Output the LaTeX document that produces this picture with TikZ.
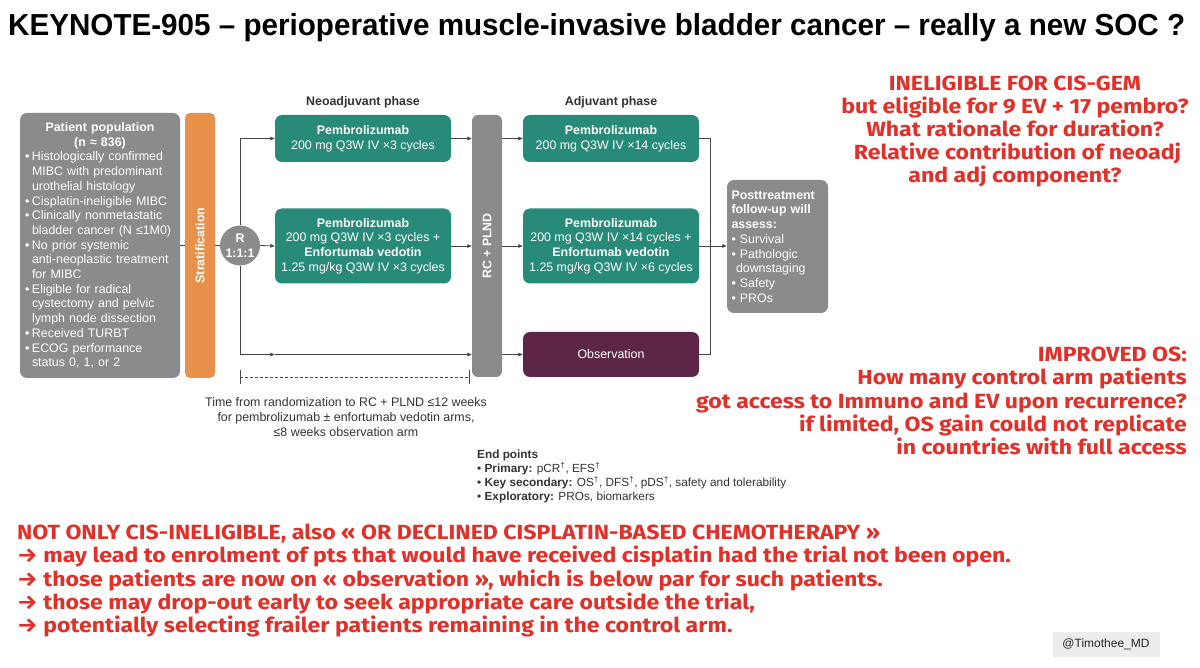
\documentclass[tikz,border=0pt]{standalone}
\usepackage{fontspec}
\usepackage{graphicx}
\setmainfont{Liberation Sans}
\newfontfamily\alertfont{Fira Sans}[FakeStretch=1.125]
\usetikzlibrary{arrows.meta}
\definecolor{boxgray}{RGB}{138,139,141}
\definecolor{stratorange}{RGB}{232,145,75}
\definecolor{armgreen}{RGB}{40,138,121}
\definecolor{obsmaroon}{RGB}{94,38,70}
\definecolor{alertred}{RGB}{226,48,40}
\definecolor{inkgray}{RGB}{51,51,51}
\definecolor{linegray}{RGB}{70,70,70}
\newcommand{\dgfont}{\fontsize{12.4}{14.7}\selectfont}
\newcommand{\epfont}{\fontsize{11.8}{14}\selectfont}
\newcommand{\pbul}{\makebox[7pt][l]{•}}
\newcommand{\pind}{\hspace*{7pt}}
\begin{document}
\begin{tikzpicture}[x=1pt,y=-1pt,
  conn/.style={draw=linegray, line width=0.8pt},
  arr/.style={conn, -{Triangle[length=4.5pt,width=3.5pt]}},
  graybox/.style={fill=boxgray, rounded corners=7pt, inner sep=0pt, text=white},
  armbox/.style={fill=armgreen, rounded corners=7pt, inner sep=0pt, text=white, align=center, font=\dgfont, minimum width=176pt},
  barlabel/.style={rotate=90, text=white, font=\dgfont\bfseries},
  phaselabel/.style={text=inkgray, font=\dgfont\bfseries},
  redtxt/.style={text=alertred, font=\alertfont\bfseries\fontsize{20.5}{23.2}\selectfont, inner sep=0pt}
]
\useasboundingbox (0,0) rectangle (1200,668);
\fill[white] (0,0) rectangle (1200,668);

% title
\node[anchor=base west, inner sep=0pt] (title) at (8,36) {\resizebox{1177pt}{22pt}{\bfseries KEYNOTE-905 – perioperative muscle-invasive bladder cancer – really a new SOC ?}};

% patient population
\node[graybox, minimum width=160pt, minimum height=265pt, text width=150pt, align=left, font=\dgfont] (pop) at (100,245.5) {%
\makebox[150pt]{\bfseries Patient population}\\
\makebox[150pt]{\bfseries (n ≈ 836)}\\
\pbul Histologically confirmed\\
\pind MIBC with predominant\\
\pind urothelial histology\\
\pbul Cisplatin-ineligible MIBC\\
\pbul Clinically nonmetastatic\\
\pind bladder cancer (N ≤1M0)\\
\pbul No prior systemic\\
\pind anti-neoplastic treatment\\
\pind for MIBC\\
\pbul Eligible for radical\\
\pind cystectomy and pelvic\\
\pind lymph node dissection\\
\pbul Received TURBT\\
\pbul ECOG performance\\
\pind status 0, 1, or 2};

% stratification
\node[fill=stratorange, rounded corners=5pt, minimum width=30pt, minimum height=265pt, inner sep=0pt] (strat) at (200,245.5) {};
\node[barlabel] (stratlbl) at (strat.center) {Stratification};

% randomisation
\node[circle, fill=boxgray, minimum size=40pt, inner sep=0pt, text=white, font=\dgfont\bfseries, align=center] (R) at (240,245.5) {R\\1:1:1};

% phase labels
\node[phaselabel] (neolbl) at (363,102) {Neoadjuvant phase};
\node[phaselabel] (adjlbl) at (611,102) {Adjuvant phase};

% neoadjuvant arms
\node[armbox, minimum height=47pt] (neo1) at (363,138.5) {\textbf{Pembrolizumab}\\200 mg Q3W IV ×3 cycles};
\node[armbox, minimum height=75pt] (neo2) at (363,246) {\textbf{Pembrolizumab}\\200 mg Q3W IV ×3 cycles +\\\textbf{Enfortumab vedotin}\\1.25 mg/kg Q3W IV ×3 cycles};

% surgery bar
\node[fill=boxgray, rounded corners=6pt, minimum width=30pt, minimum height=262pt, inner sep=0pt] (rc) at (487,246) {};
\node[barlabel] (rclbl) at (rc.center) {RC + PLND};

% adjuvant arms
\node[armbox, minimum height=47pt] (adj1) at (611,138.5) {\textbf{Pembrolizumab}\\200 mg Q3W IV ×14 cycles};
\node[armbox, minimum height=75pt] (adj2) at (611,246) {\textbf{Pembrolizumab}\\200 mg Q3W IV ×14 cycles +\\\textbf{Enfortumab vedotin}\\1.25 mg/kg Q3W IV ×6 cycles};
\node[armbox, fill=obsmaroon, minimum height=45pt] (obs) at (611,354.5) {Observation};

% follow-up box
\node[graybox, minimum width=101pt, minimum height=133pt, text width=92pt, align=left, font=\dgfont] (post) at (777.5,246.5) {%
\textbf{Posttreatment}\\
\textbf{follow-up will}\\
\textbf{assess:}\\
• Survival\\
• Pathologic\\
\hspace*{4.5pt}downstaging\\
• Safety\\
• PROs};

% connectors
\draw[conn] (pop.east) -- (strat.west);
\draw[conn] (strat.east) -- (R.west);
\draw[arr] (R.north) |- (neo1.west);
\draw[arr] (R.east) -- (neo2.west);
\coordinate (c1) at (neo1.west |- obs.west);
\draw[arr] (R.south) |- (c1);
\draw[arr] (c1) -- (rc.west |- c1);
\draw[arr] (neo1.east) -- (rc.west |- neo1.east);
\draw[arr] (neo2.east) -- (rc.west |- neo2.east);
\draw[arr] (rc.east |- adj1.west) -- (adj1.west);
\draw[arr] (rc.east |- adj2.west) -- (adj2.west);
\draw[arr] (rc.east |- obs.west) -- (obs.west);
\coordinate (merge) at (710,246);
\draw[conn] (adj1.east) -| (merge);
\draw[conn] (obs.east) -| (merge);
\draw[arr] (adj2.east) -- (post.west |- adj2.east);

% time window
\coordinate (d1) at (240,377);
\coordinate (d2) at (469,377);
\draw[conn, line width=0.7pt, dash pattern=on 3pt off 2pt] (d1) -- (d2);
\draw[conn, line width=0.7pt] ([yshift=-7pt]d1) -- ([yshift=7pt]d1);
\draw[conn, line width=0.7pt] ([yshift=-7pt]d2) -- ([yshift=7pt]d2);
\node[text=inkgray, font=\dgfont, align=center] (timetxt) at (346,417) {Time from randomization to RC + PLND ≤12 weeks\\for pembrolizumab ± enfortumab vedotin arms,\\≤8 weeks observation arm};

% end points
\node[anchor=north west, inner sep=0pt, text=inkgray, font=\epfont, align=left] (ep) at (477,450) {%
\textbf{End points}\\
• \textbf{Primary:} pCR\textsuperscript{†}, EFS\textsuperscript{†}\\
• \textbf{Key secondary:} OS\textsuperscript{†}, DFS\textsuperscript{†}, pDS\textsuperscript{†}, safety and tolerability\\
• \textbf{Exploratory:} PROs, biomarkers};

% red commentary
\node[redtxt, align=center] (q1) at (1015,131.5) {INELIGIBLE FOR CIS-GEM\\but eligible for 9 EV + 17 pembro?\\What rationale for duration?\\\hspace*{5pt}Relative contribution of neoadj\\and adj component?};
\node[redtxt, align=right, anchor=east] (q2) at (1187,401) {IMPROVED OS:\\How many control arm patients\hspace*{12pt}\\got access to Immuno and EV upon recurrence?\\if limited, OS gain could not replicate\\in countries with full access};
\node[redtxt, align=left, anchor=west] (q3) at (17,580.5) {NOT ONLY CIS-INELIGIBLE, also « OR DECLINED CISPLATIN-BASED CHEMOTHERAPY »\\→ may lead to enrolment of pts that would have received cisplatin had the trial not been open.\\→ those patients are now on « observation », which is below par for such patients.\\→ those may drop-out early to seek appropriate care outside the trial,\\→ potentially selecting frailer patients remaining in the control arm.};

% watermark
\node[fill=black!7, minimum width=107pt, minimum height=25pt, inner sep=0pt, text=black!85, font=\fontsize{12}{14}\selectfont] (wm) at (1106,644.5) {@Timothee\_MD};
\end{tikzpicture}
\end{document}
